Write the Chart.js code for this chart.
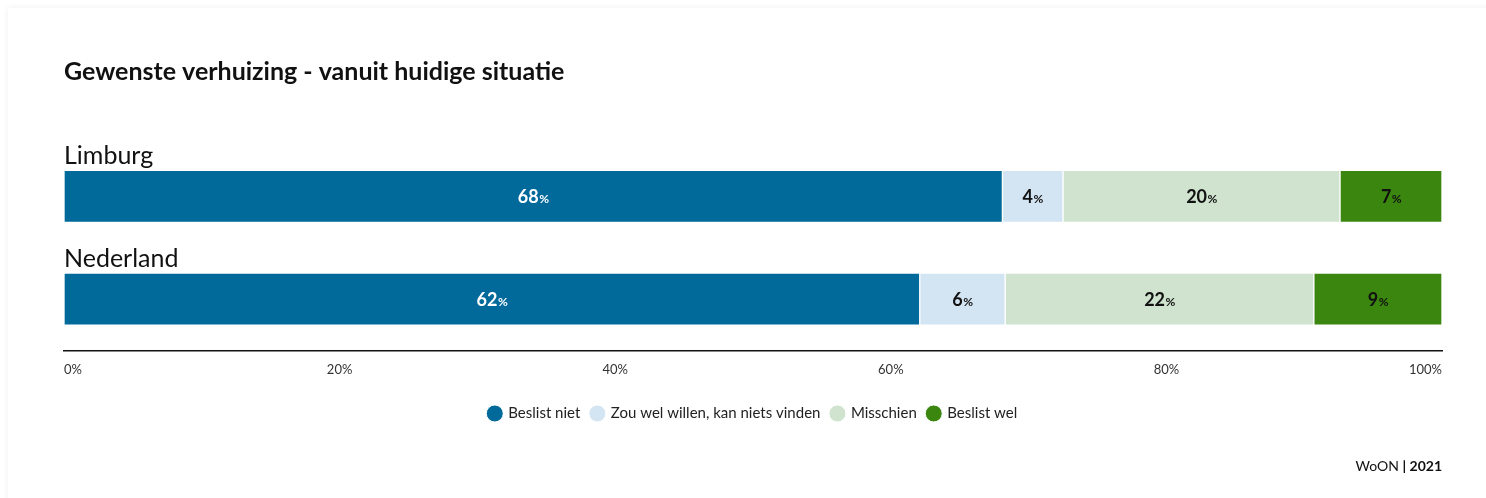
<!DOCTYPE html>
<html lang="nl">
<head>
<meta charset="utf-8">
<title>Gewenste verhuizing - vanuit huidige situatie</title>
<script src="https://cdn.jsdelivr.net/npm/chart.js@4.4.1/dist/chart.umd.min.js"></script>
<style>
  html, body { margin: 0; padding: 0; background: #ffffff; }
  body { width: 1486px; height: 498px; position: relative; overflow: hidden; }
  .card {
    position: absolute; left: 8px; top: 8px; width: 1490px; height: 500px;
    background: #fff; box-shadow: 0 0 6px rgba(0,0,0,0.07);
  }
  #wrap { position: absolute; left: 0; top: 0; width: 1486px; height: 498px; }
</style>
</head>
<body>
<div class="card"></div>
<div id="wrap"><canvas id="chart" width="1486" height="498"></canvas></div>
<script>
// Regions shown as stacked 100% bars
const categories = ['Limburg', 'Nederland'];

const seriesNames = ['Beslist niet', 'Zou wel willen, kan niets vinden', 'Misschien', 'Beslist wel'];
const beslistNiet = [68.1, 62.1];
const zouWelWillen = [4.4, 6.2];
const misschien = [20.1, 22.4];
const beslistWel = [7.4, 9.3];

const tickValues = [0, 20, 40, 60, 80, 100];
const tickLabels = ['0%', '20%', '40%', '60%', '80%', '100%'];

const seriesColors = ['#02699b', '#d3e5f3', '#d0e3cf', '#3b860f'];
const labelColors = ['#ffffff', '#111111', '#111111', '#111111'];

const FONT = 'Lato, "Open Sans", sans-serif';

// Category names above each bar
const categoryLabelPlugin = {
  id: 'categoryLabels',
  afterDatasetsDraw(chart) {
    const ctx = chart.ctx;
    const meta = chart.getDatasetMeta(0);
    ctx.save();
    ctx.font = '400 25px ' + FONT;
    ctx.fillStyle = '#111111';
    ctx.textAlign = 'left';
    ctx.textBaseline = 'alphabetic';
    meta.data.forEach((el, i) => {
      const top = el.y - el.height / 2;
      ctx.fillText(categories[i], chart.chartArea.left, top - 6);
    });
    ctx.restore();
  }
};

// Value labels inside each segment: bold number with a smaller percent sign
const valueLabelPlugin = {
  id: 'valueLabels',
  afterDatasetsDraw(chart) {
    const ctx = chart.ctx;
    ctx.save();
    ctx.textBaseline = 'alphabetic';
    chart.data.datasets.forEach((ds, di) => {
      const meta = chart.getDatasetMeta(di);
      meta.data.forEach((el, i) => {
        const num = String(Math.round(ds.data[i]));
        const cx = (el.x + el.base) / 2;
        const y = el.y + 7;
        ctx.font = '700 18px ' + FONT;
        const w1 = ctx.measureText(num).width;
        ctx.font = '700 12px ' + FONT;
        const w2 = ctx.measureText('%').width;
        const x0 = cx - (w1 + w2) / 2;
        ctx.fillStyle = labelColors[di];
        ctx.textAlign = 'left';
        ctx.font = '700 18px ' + FONT;
        ctx.fillText(num, x0, y);
        ctx.font = '700 12px ' + FONT;
        ctx.fillText('%', x0 + w1 + 0.5, y);
      });
    });
    ctx.restore();
  }
};

// Source note in the lower right corner
const sourcePlugin = {
  id: 'sourceNote',
  afterDraw(chart) {
    const ctx = chart.ctx;
    const right = chart.chartArea.right;
    const y = chart.legend.bottom + 40;
    ctx.save();
    ctx.textBaseline = 'alphabetic';
    ctx.textAlign = 'right';
    ctx.fillStyle = '#111111';
    ctx.font = '700 14px ' + FONT;
    const bold = '| 2021';
    ctx.fillText(bold, right, y);
    const wb = ctx.measureText(bold).width;
    ctx.font = '400 14px ' + FONT;
    ctx.fillText('WoON ', right - wb, y);
    ctx.restore();
  }
};

const seriesData = [beslistNiet, zouWelWillen, misschien, beslistWel];

new Chart(document.getElementById('chart'), {
  type: 'bar',
  data: {
    labels: categories,
    datasets: seriesNames.map((name, i) => ({
      label: name,
      data: seriesData[i],
      backgroundColor: seriesColors[i],
      borderColor: '#ffffff',
      borderWidth: 1,
      borderSkipped: false,
      barThickness: 52,
      pointStyle: 'circle'
    }))
  },
  options: {
    indexAxis: 'y',
    responsive: false,
    animation: false,
    events: [],
    layout: { padding: { left: 64, right: 44, top: 57, bottom: 67 } },
    scales: {
      x: {
        stacked: true,
        min: 0,
        max: 100,
        afterBuildTicks(scale) {
          scale.ticks = tickValues.map(v => ({ value: v }));
        },
        afterFit(scale) { scale.height += 5; },
        grid: { display: false, drawTicks: false },
        border: { display: true, color: '#111111', width: 1.5 },
        ticks: {
          align: 'inner',
          padding: 12,
          color: '#333333',
          font: { family: FONT, size: 13 },
          callback: (v) => tickLabels[tickValues.indexOf(v)]
        }
      },
      y: {
        stacked: true,
        display: false
      }
    },
    plugins: {
      title: {
        display: true,
        text: 'Gewenste verhuizing - vanuit huidige situatie',
        align: 'start',
        color: '#111111',
        font: { family: FONT, size: 25, weight: '700' },
        padding: { top: 0, bottom: 58 }
      },
      legend: {
        position: 'bottom',
        labels: {
          usePointStyle: true,
          boxHeight: 12,
          boxWidth: 12,
          padding: 11,
          color: '#222222',
          font: { family: FONT, size: 15 }
        }
      },
      tooltip: { enabled: false }
    }
  },
  plugins: [categoryLabelPlugin, valueLabelPlugin, sourcePlugin]
});
</script>
</body>
</html>
